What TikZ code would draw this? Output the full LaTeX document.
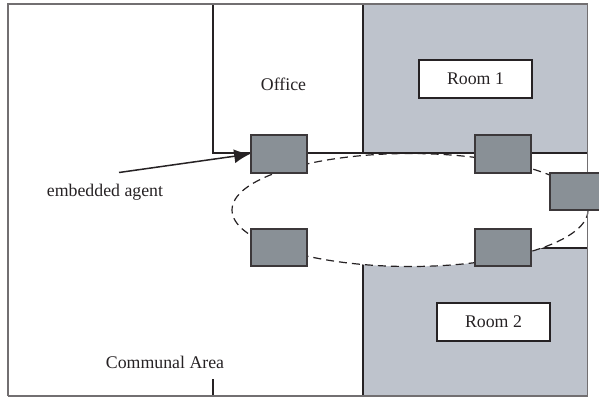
\documentclass[tikz,border=0pt]{standalone}
\usepackage{fontspec}
\setmainfont{Liberation Serif}
\usetikzlibrary{arrows.meta}
\definecolor{roomgray}{RGB}{190,195,204}
\definecolor{agentgray}{RGB}{137,144,150}
\definecolor{ink}{RGB}{38,34,36}
\tikzset{
  wall/.style={draw=ink,line width=1.5pt},
  thinwall/.style={draw=ink!65,line width=1.4pt},
  agent/.style={draw=ink!90,line width=1.6pt,fill=agentgray,minimum width=56pt,minimum height=37.5pt,inner sep=0pt},
  roomlabel/.style={draw=ink,line width=1.3pt,fill=white,minimum width=113pt,minimum height=38pt,inner sep=0pt,font=\fontsize{17.8}{20}\selectfont,text=ink},
  plainlabel/.style={inner sep=0pt,font=\fontsize{17.8}{20}\selectfont,text=ink}
}
\begin{document}
\begin{tikzpicture}[x=1pt,y=-1pt]
\useasboundingbox (0,0) rectangle (599,397);
\fill[white] (0,0) rectangle (599,397);
% rooms
\fill[roomgray] (363,4) rectangle (587.5,153);
\fill[roomgray] (363,248) rectangle (587.5,396);
% walls
\draw[wall] (213,4) -- (213,153) -- (587.5,153);
\draw[wall] (363,4) -- (363,153);
\draw[wall] (363,248) -- (363,396);
\draw[wall] (531,248) -- (587.5,248);
\draw[wall] (363,396) -- (587.5,396);
\draw[wall] (8,396) -- (213,396);
\draw[wall] (213,379) -- (213,396);
% ring
\draw[draw=ink,fill=white,line width=1.2pt,dash pattern=on 8pt off 5pt] (410,210) ellipse [x radius=178,y radius=56.5];
\draw[wall] (363,153) -- (587.5,153);
\draw[thinwall] (8,396) -- (8,4) -- (587.5,4) -- (587.5,396) -- (8,396);
% agents
\node[agent] (a1) at (279,154) {};
\node[agent] (a2) at (503,154) {};
\node[agent] (a3) at (578,191.5) {};
\node[agent] (a4) at (279,247.5) {};
\node[agent] (a5) at (503,247.5) {};
% labels
\node[roomlabel] (r1) at (475.5,79) {Room 1};
\node[roomlabel] (r2) at (493.5,322) {Room 2};
\node[plainlabel] (office) at (283.5,84) {Office};
\node[plainlabel] (emb) at (105,192) {embedded agent};
\node[plainlabel] (comm) at (165,362) {Communal Area};
\coordinate (tail) at (119,172.5);
\draw[draw=ink,line width=1.5pt,-{Latex[length=16pt,width=14pt]}] (tail) -- (a1.west);
\end{tikzpicture}
\end{document}
